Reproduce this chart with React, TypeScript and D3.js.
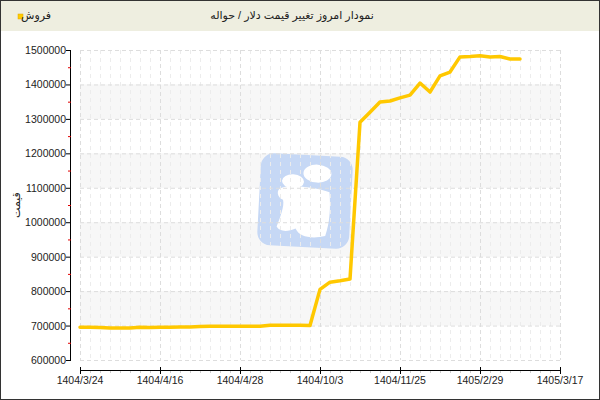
import React, { useEffect, useRef } from 'react';
import * as d3 from 'd3';

const tickLabels = ['1404/3/24', '1404/4/16', '1404/4/28', '1404/10/3', '1404/11/25', '1405/2/29', '1405/3/17'];
const pointsPerTick = 8;

// sell price, one value per point
const prices = [
  695000, 695000, 694000, 693000, 693000, 693000, 695000, 694000,
  695000, 695000, 696000, 696000, 697000, 698000, 698000, 698000,
  698000, 698000, 698000, 701000, 701000, 701000, 701000, 700000,
  805000, 826000, 830000, 835000, 1290000, 1319000, 1349000, 1352000,
  1361000, 1369000, 1404000, 1378000, 1425000, 1436000, 1480000, 1481000,
  1483000, 1480000, 1481000, 1474000, 1474000,
];

const yTicks = [600000, 700000, 800000, 900000, 1000000, 1100000, 1200000, 1300000, 1400000, 1500000];
const bands = [[700000, 800000], [900000, 1000000], [1100000, 1200000], [1300000, 1400000]];

const title = 'نمودار امروز تغییر قیمت دلار / حواله';
const seriesName = 'فروش';
const yTitle = 'قیمت';

const W = 600;
const H = 400;
const font = '"Liberation Sans", "DejaVu Sans", sans-serif';

export default function App() {
  const svgRef = useRef<SVGSVGElement>(null);

  useEffect(() => {
    if (!svgRef.current) return;
    const svg = d3.select(svgRef.current);
    svg.selectAll('*').remove();

    const maxIdx = pointsPerTick * (tickLabels.length - 1);
    const x = d3.scaleLinear().domain([0, maxIdx]).range([80, 560]);
    const y = d3.scaleLinear().domain([600000, 1500000]).range([360, 50]);

    svg.append('rect').attr('width', W).attr('height', H).attr('fill', '#fff');

    // header
    svg.append('rect').attr('x', 0).attr('y', 0).attr('width', W).attr('height', 31).attr('fill', '#eeeee0');
    svg.append('text')
      .attr('x', 292).attr('y', 19)
      .attr('text-anchor', 'middle')
      .attr('font-family', font).attr('font-size', 11).attr('fill', '#222')
      .text(title);
    svg.append('rect').attr('x', 18).attr('y', 14).attr('width', 5).attr('height', 5)
      .attr('fill', '#ffcc00').attr('stroke', '#e0a800').attr('stroke-width', 0.5);
    svg.append('text')
      .attr('x', 36).attr('y', 19)
      .attr('text-anchor', 'middle')
      .attr('font-family', font).attr('font-size', 11).attr('fill', '#222')
      .text(seriesName);

    // bands
    svg.append('g').selectAll('rect').data(bands).enter().append('rect')
      .attr('x', x(0)).attr('width', x(maxIdx) - x(0))
      .attr('y', d => y(d[1])).attr('height', d => y(d[0]) - y(d[1]))
      .attr('fill', '#f7f7f7');

    // watermark logo
    const logo = svg.append('g').attr('transform', 'translate(305,201) rotate(3)');
    logo.append('rect').attr('x', -46).attr('y', -46).attr('width', 92).attr('height', 92).attr('rx', 13)
      .attr('fill', '#c6d8f5');
    logo.append('ellipse').attr('cx', 11).attr('cy', -28).attr('rx', 14).attr('ry', 9).attr('fill', '#fff');
    logo.append('ellipse').attr('cx', -13).attr('cy', -19).attr('rx', 11).attr('ry', 7).attr('fill', '#fff');
    logo.append('path')
      .attr('d', 'M-24,-12 C-14,-16 10,-14 24,-10 C26,5 26,20 22,34 C8,38 -4,36 -8,28 C-16,32 -24,32 -27,27 C-24,18 -20,6 -22,0 C-28,-2 -30,-10 -24,-12 Z')
      .attr('fill', '#fff');

    // grid
    const grid = svg.append('g');
    grid.selectAll('line.minor').data(d3.range(0, maxIdx + 1).filter(i => i % pointsPerTick !== 0)).enter().append('line')
      .attr('x1', d => x(d) + 0.5).attr('x2', d => x(d) + 0.5).attr('y1', 50).attr('y2', 360)
      .attr('stroke', '#ececec').attr('stroke-dasharray', '4,4');
    grid.selectAll('line.vmajor').data(d3.range(tickLabels.length)).enter().append('line')
      .attr('x1', d => x(d * pointsPerTick) + 0.5).attr('x2', d => x(d * pointsPerTick) + 0.5).attr('y1', 50).attr('y2', 360)
      .attr('stroke', '#dddddd').attr('stroke-dasharray', '4,3');
    grid.selectAll('line.h').data(yTicks).enter().append('line')
      .attr('x1', x(0)).attr('x2', x(maxIdx)).attr('y1', d => y(d) + 0.5).attr('y2', d => y(d) + 0.5)
      .attr('stroke', '#dddddd').attr('stroke-dasharray', '4,3');

    // y axis
    const ya = svg.append('g').attr('font-family', font).attr('font-size', 10.5).attr('fill', '#222');
    ya.append('line').attr('x1', 70.5).attr('x2', 70.5).attr('y1', y(1500000)).attr('y2', y(600000))
      .attr('stroke', '#000');
    ya.selectAll('line.t').data(yTicks).enter().append('line')
      .attr('x1', 66).attr('x2', 71).attr('y1', d => y(d) + 0.5).attr('y2', d => y(d) + 0.5).attr('stroke', '#000');
    ya.selectAll('line.m').data(yTicks.slice(0, -1).map(v => v + 50000)).enter().append('line')
      .attr('x1', 68).attr('x2', 71).attr('y1', d => y(d) + 0.5).attr('y2', d => y(d) + 0.5).attr('stroke', '#e00000');
    ya.selectAll('text').data(yTicks).enter().append('text')
      .attr('x', 66).attr('y', d => y(d) + 4).attr('text-anchor', 'end').text(d => String(d));
    svg.append('text')
      .attr('transform', 'translate(20,205) rotate(-90)')
      .attr('text-anchor', 'middle')
      .attr('font-family', font).attr('font-size', 11).attr('fill', '#222')
      .text(yTitle);

    // x axis
    const xa = svg.append('g').attr('font-family', font).attr('font-size', 10.5).attr('fill', '#222');
    xa.append('line').attr('x1', x(0)).attr('x2', x(maxIdx)).attr('y1', 370.5).attr('y2', 370.5).attr('stroke', '#000');
    xa.selectAll('line.m').data(d3.range(0, maxIdx + 1).filter(i => i % pointsPerTick !== 0)).enter().append('line')
      .attr('x1', d => x(d) + 0.5).attr('x2', d => x(d) + 0.5).attr('y1', 371).attr('y2', 373).attr('stroke', '#ccc');
    xa.selectAll('line.t').data(d3.range(tickLabels.length)).enter().append('line')
      .attr('x1', d => x(d * pointsPerTick) + 0.5).attr('x2', d => x(d * pointsPerTick) + 0.5)
      .attr('y1', 367).attr('y2', 374).attr('stroke', '#000');
    xa.selectAll('text').data(tickLabels).enter().append('text')
      .attr('x', (_d, i) => x(i * pointsPerTick)).attr('y', 384).attr('text-anchor', 'middle').text(d => d);

    // series
    const line = d3.line<number>().x((_d, i) => x(i)).y(d => y(d));
    svg.append('path').datum(prices)
      .attr('d', line)
      .attr('fill', 'none').attr('stroke', '#ffc800').attr('stroke-width', 3.5)
      .attr('stroke-linejoin', 'round').attr('stroke-linecap', 'round');

    // outer border
    svg.append('rect').attr('x', 0.5).attr('y', 0.5).attr('width', W - 1).attr('height', H - 1)
      .attr('fill', 'none').attr('stroke', '#333');
  }, []);

  return (
    <div style={{ position: 'fixed', left: 0, top: 0 }}>
      <svg ref={svgRef} width={W} height={H}></svg>
    </div>
  );
}
